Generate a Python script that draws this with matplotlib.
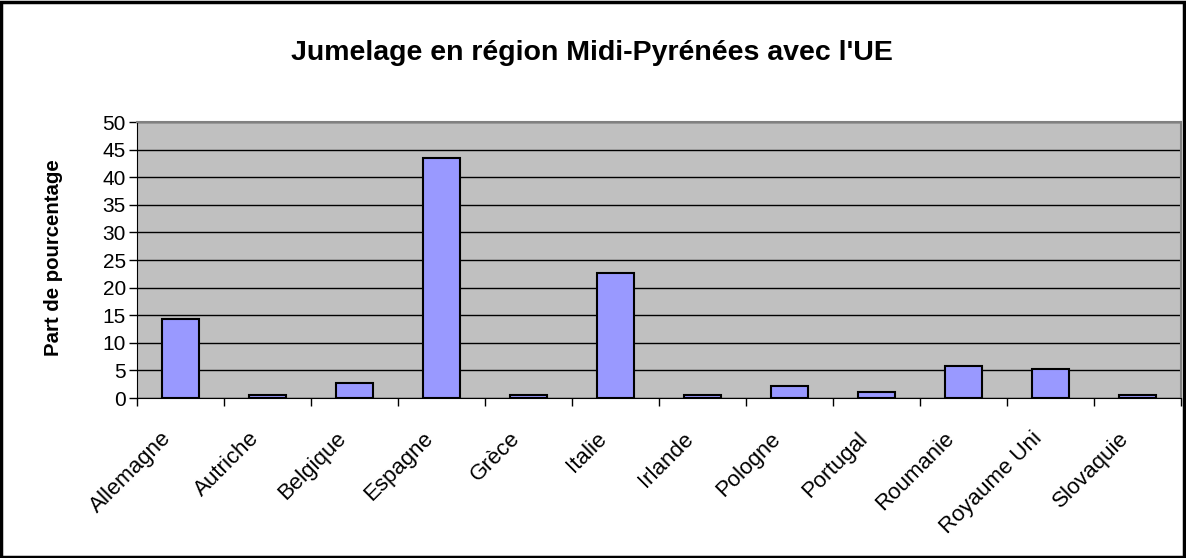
import matplotlib.pyplot as plt
from matplotlib.patches import Rectangle
from matplotlib.transforms import ScaledTranslation

plt.rcParams['font.family'] = ['Liberation Sans', 'DejaVu Sans']

pays = ['Allemagne', 'Autriche', 'Belgique', 'Espagne', 'Grèce', 'Italie',
        'Irlande', 'Pologne', 'Portugal', 'Roumanie', 'Royaume Uni', 'Slovaquie']
parts = [14.4, 0.6, 2.7, 43.4, 0.6, 22.7, 0.6, 2.1, 1.0, 5.8, 5.2, 0.6]
yticks = [0, 5, 10, 15, 20, 25, 30, 35, 40, 45, 50]

fig = plt.figure(figsize=(11.86, 5.58), dpi=100)
ax = fig.add_axes([137/1186, 160/558, (1181-137)/1186, (398-122)/558])
ax.set_facecolor('#c0c0c0')

x = list(range(len(pays)))
ax.bar(x, parts, width=0.42, color='#9999ff', edgecolor='black', linewidth=1.5, zorder=3)

ax.set_xlim(-0.5, len(pays) - 0.5)
ax.set_ylim(0, 50)
ax.set_yticks(yticks)
ax.yaxis.grid(True, color='black', linewidth=1, zorder=0)
ax.tick_params(axis='y', direction='out', length=6, width=1, labelsize=15, pad=2)

# ticks between categories, labels at centers
ax.set_xticks(x)
ax.set_xticklabels(pays, rotation=45, ha='right', va='center', rotation_mode='anchor', fontsize=16)
ax.set_xticks([i - 0.5 for i in range(len(pays) + 1)], minor=True)
ax.tick_params(axis='x', which='major', length=0, pad=27)
ax.tick_params(axis='x', which='minor', direction='out', length=6, width=1)
for lab in ax.get_xticklabels():
    lab.set_transform(lab.get_transform() + ScaledTranslation(-0.12, 0, fig.dpi_scale_trans))

for side in ['top', 'right']:
    ax.spines[side].set_color('#808080')
    ax.spines[side].set_linewidth(1.5)
ax.spines['left'].set_color('black')
ax.spines['bottom'].set_color('black')

ax.set_ylabel('Part de pourcentage', fontsize=14.7, fontweight='bold')
ax.yaxis.set_label_coords(-0.071, 0.51)
fig.text(0.499, 1 - 53/558, "Jumelage en région Midi-Pyrénées avec l'UE",
         ha='center', va='center', fontsize=20.5, fontweight='bold')

fig.patches.append(Rectangle((0.001, 0.002), 0.997, 0.995, transform=fig.transFigure,
                             fill=False, edgecolor='black', linewidth=2.5))

fig.savefig('out.png', dpi=100)
